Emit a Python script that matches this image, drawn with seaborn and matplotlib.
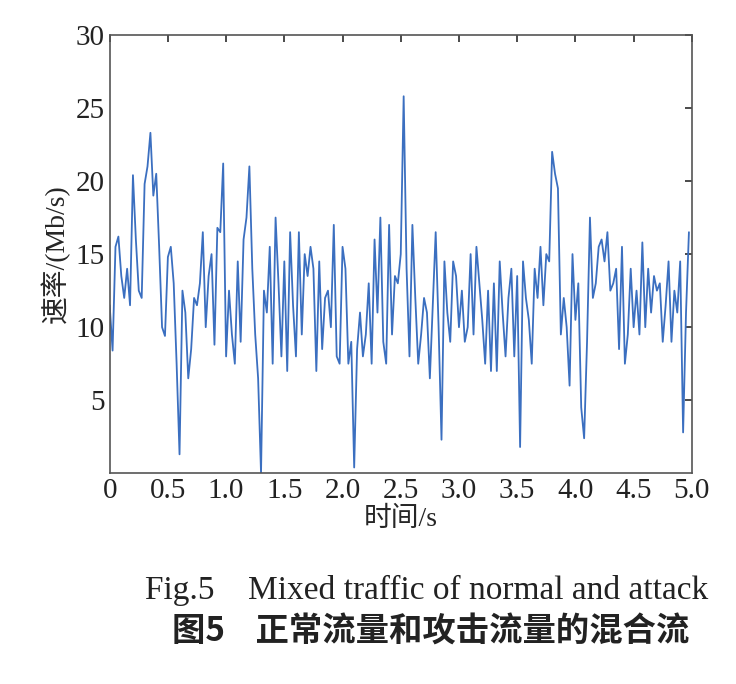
import numpy as np
import pandas as pd
import seaborn as sns
import matplotlib
matplotlib.use("Agg")
import matplotlib.pyplot as plt

seg1 = [11.5, 8.4, 15.5, 16.2, 13.5, 12.0, 14.0, 11.5, 20.4, 16.0, 12.5, 12.0, 19.8, 21.0, 23.3, 19.0, 20.5, 15.5, 10.0, 9.4]
seg2 = [14.8, 15.5, 13.0, 7.5, 1.3, 12.5, 11.0, 6.5, 8.5, 12.0, 11.5, 13.0, 16.5, 10.0, 13.5, 15.0, 8.8, 16.8, 16.5, 21.2]
seg3 = [8.0, 12.5, 9.5, 7.5, 14.5, 9.0, 16.0, 17.5, 21.0, 14.0, 9.5, 6.5, 0.0, 12.5, 11.0, 15.5, 7.5, 17.5, 13.0, 8.0]
seg4 = [14.5, 7.0, 16.5, 11.5, 8.0, 16.5, 9.5, 15.0, 13.5, 15.5, 14.0, 7.0, 14.5, 8.5, 12.0, 12.5, 10.0, 17.0, 8.0, 7.5]
seg5 = [15.5, 14.0, 7.5, 9.0, 0.4, 8.5, 11.0, 8.0, 9.5, 13.0, 7.5, 16.0, 11.0, 17.5, 9.0, 7.5, 17.0, 9.5, 13.5, 13.0]
seg6 = [15.0, 25.8, 14.0, 8.0, 17.0, 12.0, 7.5, 9.5, 12.0, 11.0, 6.5, 11.5, 16.5, 10.0, 2.3, 14.5, 11.0, 9.0, 14.5, 13.5]
seg7 = [10.0, 12.5, 9.0, 10.0, 15.0, 9.5, 15.5, 13.0, 10.5, 7.5, 12.5, 7.0, 13.0, 7.0, 14.5, 11.0, 8.0, 12.0, 14.0, 8.0]
seg8 = [13.5, 1.8, 14.5, 12.0, 10.5, 7.5, 14.0, 12.0, 15.5, 11.5, 15.0, 14.5, 22.0, 20.5, 19.5, 9.5, 12.0, 10.0, 6.0, 15.0]
seg9 = [10.5, 13.0, 4.5, 2.4, 9.0, 17.5, 12.0, 13.0, 15.5, 16.0, 14.5, 16.5, 12.5, 13.0, 14.0, 8.5, 15.5, 7.5, 9.5, 14.0]
seg10 = [10.0, 12.5, 9.5, 15.8, 10.0, 14.0, 11.0, 13.5, 12.5, 13.0, 9.0, 11.5, 14.5, 9.0, 12.5, 11.0, 14.5, 2.8, 11.0, 16.5]
rate = seg1 + seg2 + seg3 + seg4 + seg5 + seg6 + seg7 + seg8 + seg9 + seg10
time = [i * 0.025 for i in range(len(rate))]
xticks = [0, 0.5, 1.0, 1.5, 2.0, 2.5, 3.0, 3.5, 4.0, 4.5, 5.0]
xticklabels = ["0", "0.5", "1.0", "1.5", "2.0", "2.5", "3.0", "3.5", "4.0", "4.5", "5.0"]
yticks = [5, 10, 15, 20, 25, 30]

sns.set_theme(style="white")
plt.rcParams['font.family'] = ['Liberation Serif', 'Noto Sans CJK SC', 'DejaVu Sans']

df = pd.DataFrame({"t": time, "v": rate})
fig = plt.figure(figsize=(7.36, 6.84), dpi=100)
ax = fig.add_axes([0.149, 0.308, 0.791, 0.641])
sns.lineplot(data=df, x="t", y="v", ax=ax, color="#3b6fc0", linewidth=1.3)
ax.set_xlim(0, 5)
ax.set_ylim(0, 30)
ax.set_xticks(xticks)
ax.set_xticklabels(xticklabels)
ax.set_yticks(yticks)
ax.tick_params(direction="in", length=5, labelsize=21, top=True, right=True, colors="#333333", labelcolor="#222222")
for s in ax.spines.values():
    s.set_color("#555555"); s.set_linewidth(1.2)
ax.set_xlabel("时间/s", fontsize=20, family=['Liberation Serif', 'Noto Sans CJK SC'], labelpad=2)
ax.set_ylabel("速率/(Mb/s)", fontsize=20, family=['Liberation Serif', 'Noto Sans CJK SC'], labelpad=4)
fig.text(0.58, 0.137, "Fig.5    Mixed traffic of normal and attack", ha="center", va="center", fontsize=24, color="#222222")
fig.text(0.585, 0.076, "图5    正常流量和攻击流量的混合流", ha="center", va="center", fontsize=24, fontweight="bold",
         family=['Noto Sans CJK SC', 'DejaVu Sans'], color="#222222")
fig.savefig("out.png", dpi=100)
